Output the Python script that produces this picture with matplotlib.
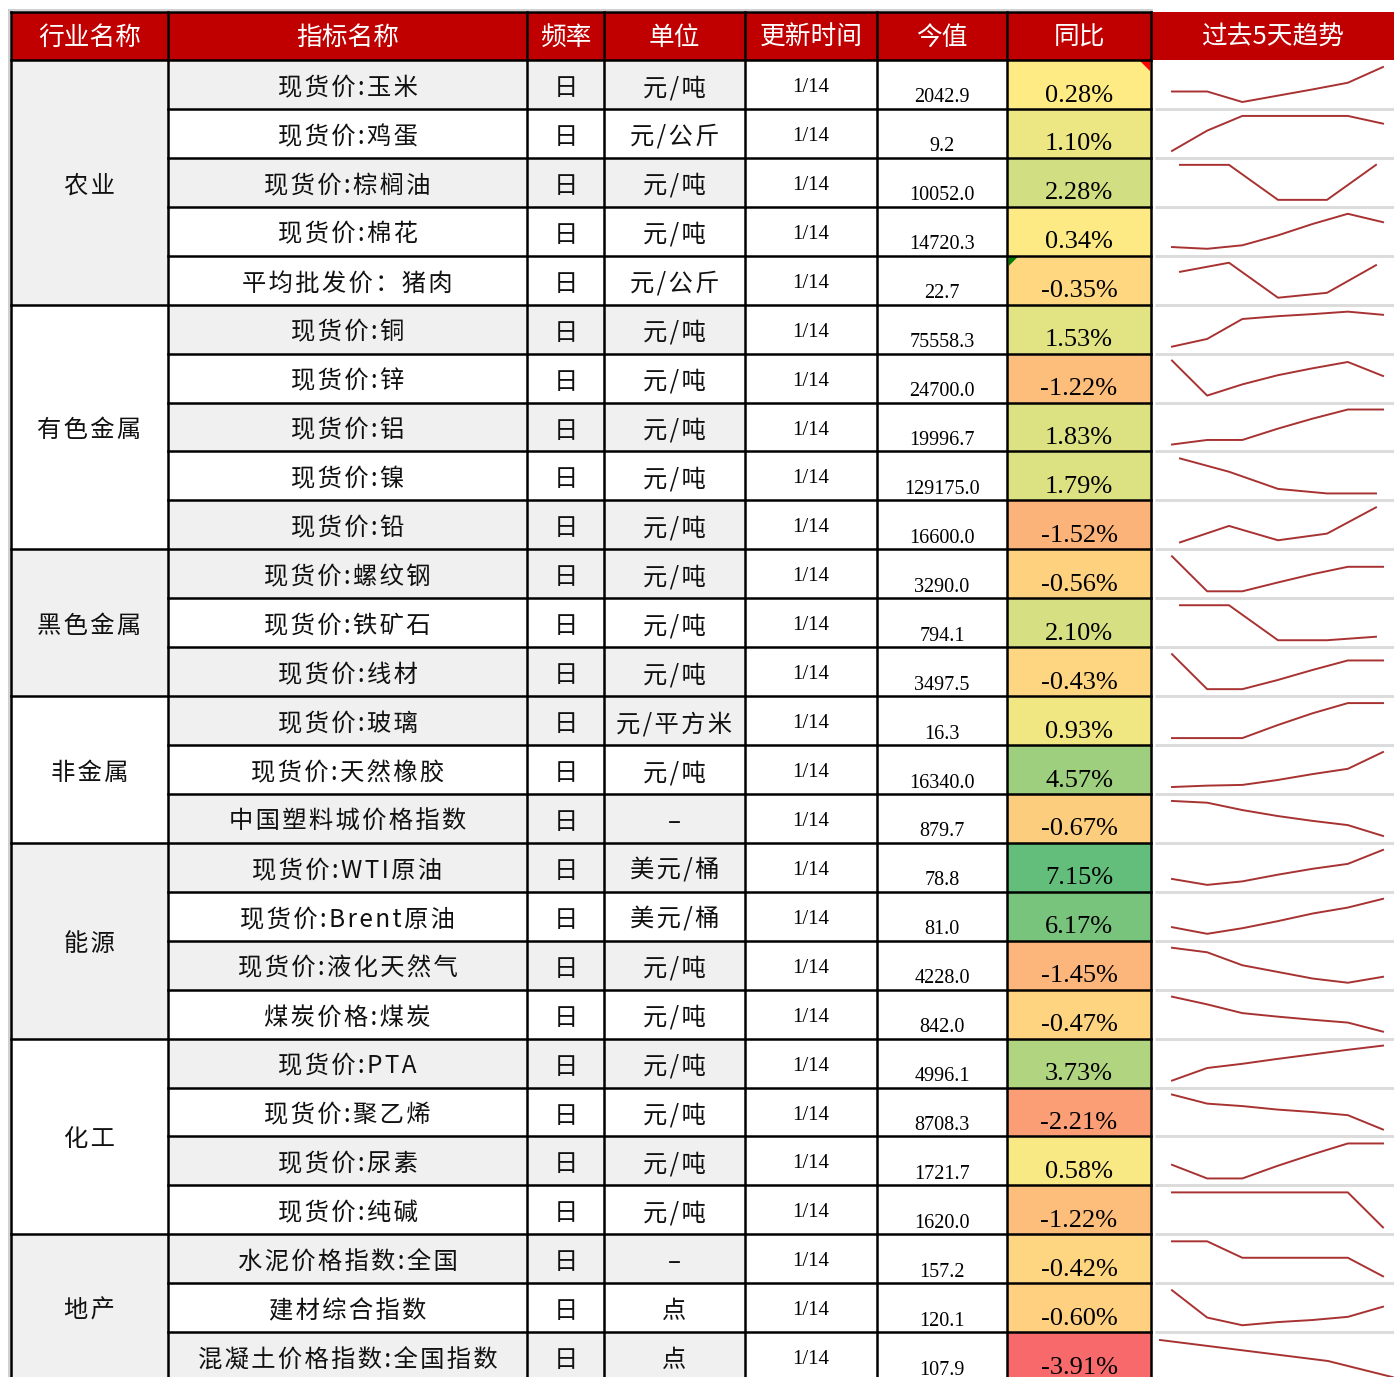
import matplotlib.pyplot as plt
import matplotlib.colors as mcolors
from matplotlib.patches import Rectangle, Polygon

plt.rcParams['font.family'] = ['Noto Sans CJK SC', 'DejaVu Sans']

# ---- data ----
header = ["行业名称", "指标名称", "频率", "单位", "更新时间", "今值", "同比", "过去5天趋势"]
groups = ["农业", "有色金属", "黑色金属", "非金属", "能源", "化工", "地产"]
group_sizes = [5, 5, 3, 3, 4, 4, 3]
names = ["现货价:玉米", "现货价:鸡蛋", "现货价:棕榈油", "现货价:棉花", "平均批发价：猪肉",
         "现货价:铜", "现货价:锌", "现货价:铝", "现货价:镍", "现货价:铅",
         "现货价:螺纹钢", "现货价:铁矿石", "现货价:线材",
         "现货价:玻璃", "现货价:天然橡胶", "中国塑料城价格指数",
         "现货价:WTI原油", "现货价:Brent原油", "现货价:液化天然气", "煤炭价格:煤炭",
         "现货价:PTA", "现货价:聚乙烯", "现货价:尿素", "现货价:纯碱",
         "水泥价格指数:全国", "建材综合指数", "混凝土价格指数:全国指数"]
freq = ["日"] * 27
units = ["元/吨", "元/公斤", "元/吨", "元/吨", "元/公斤",
         "元/吨", "元/吨", "元/吨", "元/吨", "元/吨",
         "元/吨", "元/吨", "元/吨",
         "元/平方米", "元/吨", "–",
         "美元/桶", "美元/桶", "元/吨", "元/吨",
         "元/吨", "元/吨", "元/吨", "元/吨",
         "–", "点", "点"]
dates = ["1/14"] * 27
values = [2042.9, 9.2, 10052.0, 14720.3, 22.7,
          75558.3, 24700.0, 19996.7, 129175.0, 16600.0,
          3290.0, 794.1, 3497.5,
          16.3, 16340.0, 879.7,
          78.8, 81.0, 4228.0, 842.0,
          4996.1, 8708.3, 1721.7, 1620.0,
          157.2, 120.1, 107.9]
yoy = [0.28, 1.10, 2.28, 0.34, -0.35,
       1.53, -1.22, 1.83, 1.79, -1.52,
       -0.56, 2.10, -0.43,
       0.93, 4.57, -0.67,
       7.15, 6.17, -1.45, -0.47,
       3.73, -2.21, 0.58, -1.22,
       -0.42, -0.60, -3.91]
# last few days, relative level
trends = [
    [3.0, 3.0, 0, 1.8, 3.6, 5.5, 10],
    [0, 5.8, 10, 10, 10, 10, 7.8],
    [10, 10, 0, 0, 10],
    [0.5, 0, 1.0, 3.8, 7.1, 10, 7.6],
    [7.4, 10, 0, 1.4, 9.3],
    [0, 2.2, 7.9, 8.7, 9.3, 10, 9.1],
    [10, 0, 3.2, 5.8, 7.8, 9.6, 5.6],
    [0, 1.3, 1.3, 4.5, 7.4, 10, 10],
    [10, 6.2, 1.3, 0, 0],
    [0, 4.7, 0.6, 2.5, 10],
    [10, 0, 0, 2.5, 4.9, 7.0, 7.0],
    [10, 10, 0, 0, 1.0],
    [10, 0, 0, 2.6, 5.5, 8.2, 8.2],
    [0, 0, 0, 3.7, 7.1, 10, 10],
    [0, 0.4, 0.6, 2.0, 3.7, 5.2, 10],
    [10, 9.5, 7.4, 5.7, 4.3, 3.1, 0],
    [1.7, 0, 1.0, 2.9, 4.6, 6.0, 10],
    [1.9, 0, 1.6, 3.6, 5.8, 7.5, 10],
    [10, 8.7, 5.0, 3.1, 1.2, 0, 1.7],
    [10, 7.8, 5.3, 4.3, 3.4, 2.6, 0],
    [0, 3.6, 4.8, 6.2, 7.5, 8.8, 10],
    [10, 7.4, 6.7, 5.7, 5.0, 4.1, 0],
    [3.9, 0, 0, 3.6, 6.9, 10, 10],
    [10, 10, 10, 10, 10, 10, 0],
    [10, 10, 5.3, 5.3, 5.3, 5.3, 0],
    [10, 2.2, 0, 0.9, 1.5, 2.4, 5.3],
    [10, 8.75, 7.5, 6.25, 5.0, 2.5, 0],
]
row_shaded = [1, 0, 1, 0, 0,
              1, 0, 1, 0, 1,
              1, 0, 1,
              1, 0, 1,
              1, 0, 1, 0,
              1, 0, 1, 0,
              1, 0, 1]
group_shaded = [1, 0, 1, 0, 1, 0, 1]

# ---- layout (pixels) ----
W, H = 1394, 1377
col_x = [11, 168, 527, 604, 745, 877, 1007, 1151, 1394]
head_top, head_bot = 12, 60
row_h = 48.93
n = len(names)


def top(i):
    return head_bot + i * row_h


def spaced(s):
    # excel-like letter spacing
    return '\u200a'.join(s)


fig = plt.figure(figsize=(W / 100, H / 100), dpi=100)
ax = fig.add_axes([0, 0, 1, 1])
ax.set_xlim(0, W)
ax.set_ylim(H, 0)
ax.axis('off')

gray = '#F0F0F0'
red = '#C00000'
serif = 'Liberation Serif'
ink = '#111111'

# excel gridline artefacts
ax.plot([8.5, 8.5], [9.5, H], color='#C8C8C8', lw=1.2)
ax.plot([8.5, 1152], [9.5, 9.5], color='#C8C8C8', lw=1.2)

# header
ax.add_patch(Rectangle((col_x[0], head_top), col_x[-1] - col_x[0], head_bot - head_top, color=red, lw=0))
for c, t in enumerate(header):
    ax.text((col_x[c] + col_x[c + 1]) / 2, 38, t, color='white', fontsize=18.5, ha='center', va='center')

# color scale for yoy (red - yellow - green, midpoint at median)
cmap = mcolors.LinearSegmentedColormap.from_list('ryg', ['#F8696B', '#FFEB84', '#63BE7B'])
med = sorted(yoy)[len(yoy) // 2]
norm = mcolors.TwoSlopeNorm(vmin=min(yoy), vcenter=med, vmax=max(yoy))

# body cells
for i in range(n):
    t0 = top(i)
    if row_shaded[i]:
        ax.add_patch(Rectangle((col_x[1], t0), col_x[4] - col_x[1], row_h, color=gray, lw=0))
    ax.add_patch(Rectangle((col_x[6], t0), col_x[7] - col_x[6], row_h, color=cmap(norm(yoy[i])), lw=0))
    ax.text((col_x[1] + col_x[2]) / 2, t0 + 28, spaced(names[i]), fontsize=17.5, ha='center', va='center', color=ink)
    ax.text((col_x[2] + col_x[3]) / 2, t0 + 28, freq[i], fontsize=17.5, ha='center', va='center', color=ink)
    ax.text((col_x[3] + col_x[4]) / 2, t0 + 28, spaced(units[i]), fontsize=17.5, ha='center', va='center', color=ink)
    ax.text((col_x[4] + col_x[5]) / 2, t0 + 32, dates[i], fontsize=15, family=serif, ha='center', va='baseline')
    ax.text((col_x[5] + col_x[6]) / 2, t0 + 42.5, f"{values[i]:.1f}", fontsize=14.5, family=serif, ha='center', va='baseline')
    ax.text((col_x[6] + col_x[7]) / 2, t0 + 41.5, f"{yoy[i]:.2f}%", fontsize=19, family=serif, ha='center', va='baseline')
    # sparkline separator
    ax.plot([1155, W], [t0 + row_h, t0 + row_h], color='#DCDCDC', lw=2.2, solid_capstyle='butt')

# group cells
start = 0
for g, size in enumerate(group_sizes):
    t0, t1 = top(start), top(start + size)
    if group_shaded[g]:
        ax.add_patch(Rectangle((col_x[0], t0), col_x[1] - col_x[0], t1 - t0, color=gray, lw=0))
    ax.text((col_x[0] + col_x[1]) / 2, (t0 + t1) / 2 + 3, spaced(groups[g]), fontsize=17.5, ha='center', va='center', color=ink)
    start += size

# grid lines
lw = 1.8
for x in col_x[:-1]:
    ax.plot([x, x], [head_top, H + 5], color='black', lw=lw)
ax.plot([col_x[0], col_x[7]], [head_top, head_top], color='black', lw=lw)
ax.plot([col_x[0], col_x[7]], [head_bot, head_bot], color='black', lw=lw)
bounds = [0]
for s in group_sizes:
    bounds.append(bounds[-1] + s)
for i in range(1, n + 1):
    x0 = col_x[0] if i in bounds else col_x[1]
    ax.plot([x0, col_x[7]], [top(i), top(i)], color='black', lw=lw)

# excel indicator marks
ax.add_patch(Polygon([(1140, 61), (1150, 61), (1150, 71)], color='#FF0000', lw=0))
ax.add_patch(Polygon([(1009, top(4) + 1), (1018, top(4) + 1), (1009, top(4) + 10)], color='#008000', lw=0))

# sparklines
for i, tr in enumerate(trends):
    t0 = top(i)
    if i == n - 1:
        x0, x1, y0, y1 = 1160, 1412, 1340, 1382
    elif len(tr) == 5:
        x0, x1, y0, y1 = 1180, 1376, t0 + 7, t0 + 42
    else:
        x0, x1, y0, y1 = 1172, 1383, t0 + 7, t0 + 42
    sa = fig.add_axes([x0 / W, 1 - y1 / H, (x1 - x0) / W, (y1 - y0) / H])
    sa.plot(range(len(tr)), tr, color='#A83232', lw=1.4, clip_on=False)
    sa.set_xlim(0, len(tr) - 1)
    sa.set_ylim(min(tr), max(tr))
    sa.axis('off')

fig.savefig('out.png', dpi=100)
